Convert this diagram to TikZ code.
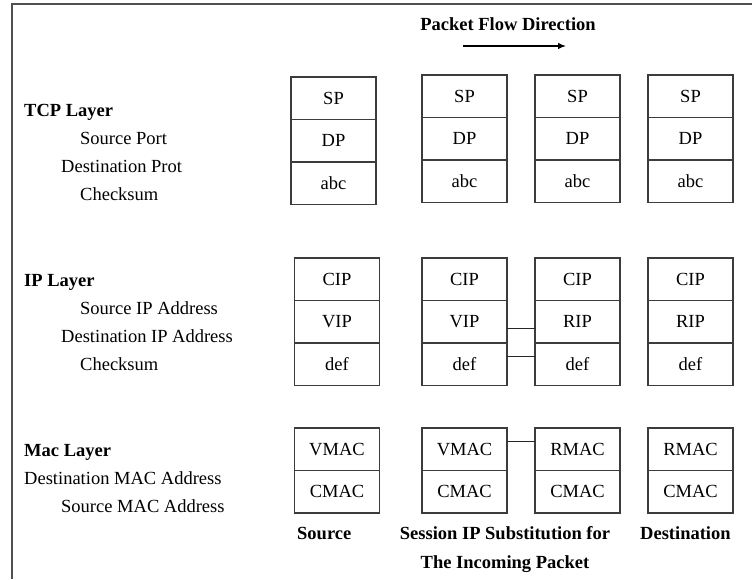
\documentclass[tikz,border=0pt]{standalone}
\usepackage{fontspec}
\setmainfont{Liberation Serif}
\usetikzlibrary{arrows.meta,positioning}
\definecolor{framegray}{RGB}{80,80,80}
\definecolor{boxgray}{RGB}{60,60,60}
\tikzset{
  cell/.style={draw=boxgray, line width=1.2pt, minimum width=85pt, minimum height=42.5pt,
    inner sep=0pt, outer sep=0pt, font=\fontsize{18.5}{20}\selectfont},
  lbl/.style={anchor=base west, inner sep=0pt, font=\fontsize{18.5}{20}\selectfont},
  head/.style={lbl, font=\fontsize{18.5}{20}\selectfont\bfseries},
  caption/.style={anchor=base, inner sep=0pt, font=\fontsize{18.5}{20}\selectfont\bfseries},
  link/.style={draw=black!85, line width=1.2pt},
  node distance=0pt
}
\begin{document}
\begin{tikzpicture}[x=1pt,y=-1pt]
\useasboundingbox (0,0) rectangle (752,579);
% frame
\draw[framegray, line width=2pt] (12,579) -- (12,4) -- (752,4);

% flow direction
\node[caption] (flow) at (508,30) {Packet Flow Direction};
\coordinate (fa) at (463,46);
\coordinate (fb) at (566,46);
\draw[line width=1.3pt, -{Latex[length=8pt,width=6.5pt]}] (fa) -- (fb);

% left descriptions
\node[head] (tcp) at (24,116) {TCP Layer};
\node[lbl] (tcp1) at (80,144) {Source Port};
\node[lbl] (tcp2) at (61,172) {Destination Prot};
\node[lbl] (tcp3) at (80,200) {Checksum};

\node[head] (ip) at (24,286) {IP Layer};
\node[lbl] (ip1) at (80,314) {Source IP Address};
\node[lbl] (ip2) at (61,342) {Destination IP Address};
\node[lbl] (ip3) at (80,370) {Checksum};

\node[head] (mac) at (24,456) {Mac Layer};
\node[lbl] (mac1) at (24,484) {Destination MAC Address};
\node[lbl] (mac2) at (61,512) {Source MAC Address};

% TCP headers
\node[cell, anchor=north] (t1a) at (333.5,77) {SP};
\node[cell, below=of t1a] (t1b) {DP};
\node[cell, below=of t1b] (t1c) {abc};
\node[cell, anchor=north] (t2a) at (464.5,75) {SP};
\node[cell, below=of t2a] (t2b) {DP};
\node[cell, below=of t2b] (t2c) {abc};
\node[cell, anchor=north] (t3a) at (577.5,75) {SP};
\node[cell, below=of t3a] (t3b) {DP};
\node[cell, below=of t3b] (t3c) {abc};
\node[cell, anchor=north] (t4a) at (690.5,75) {SP};
\node[cell, below=of t4a] (t4b) {DP};
\node[cell, below=of t4b] (t4c) {abc};

% IP headers
\node[cell, anchor=north] (i1a) at (337,258) {CIP};
\node[cell, below=of i1a] (i1b) {VIP};
\node[cell, below=of i1b] (i1c) {def};
\node[cell, anchor=north] (i2a) at (464.5,258) {CIP};
\node[cell, below=of i2a] (i2b) {VIP};
\node[cell, below=of i2b] (i2c) {def};
\node[cell, anchor=north] (i3a) at (577.5,258) {CIP};
\node[cell, below=of i3a] (i3b) {RIP};
\node[cell, below=of i3b] (i3c) {def};
\node[cell, anchor=north] (i4a) at (690.5,258) {CIP};
\node[cell, below=of i4a] (i4b) {RIP};
\node[cell, below=of i4b] (i4c) {def};

% MAC headers
\node[cell, anchor=north] (m1a) at (337,428) {VMAC};
\node[cell, below=of m1a] (m1b) {CMAC};
\node[cell, anchor=north] (m2a) at (464.5,428) {VMAC};
\node[cell, below=of m2a] (m2b) {CMAC};
\node[cell, anchor=north] (m3a) at (577.5,428) {RMAC};
\node[cell, below=of m3a] (m3b) {CMAC};
\node[cell, anchor=north] (m4a) at (690.5,428) {RMAC};
\node[cell, below=of m4a] (m4b) {CMAC};

% substitution links
\draw[link] ([yshift=-7pt]i2b.east) -- ([yshift=-7pt]i3b.west);
\draw[link] ([yshift=7.5pt]i2c.east) -- ([yshift=7.5pt]i3c.west);
\draw[link] ([yshift=7.5pt]m2a.east) -- ([yshift=7.5pt]m3a.west);

% captions
\node[caption, anchor=base west] (src) at (297,539) {Source};
\node[caption] (sub1) at (505,539) {Session IP Substitution for};
\node[caption] (sub2) at (505,568) {The Incoming Packet};
\node[caption, anchor=base west] (dst) at (640,539) {Destination};
\end{tikzpicture}
\end{document}
